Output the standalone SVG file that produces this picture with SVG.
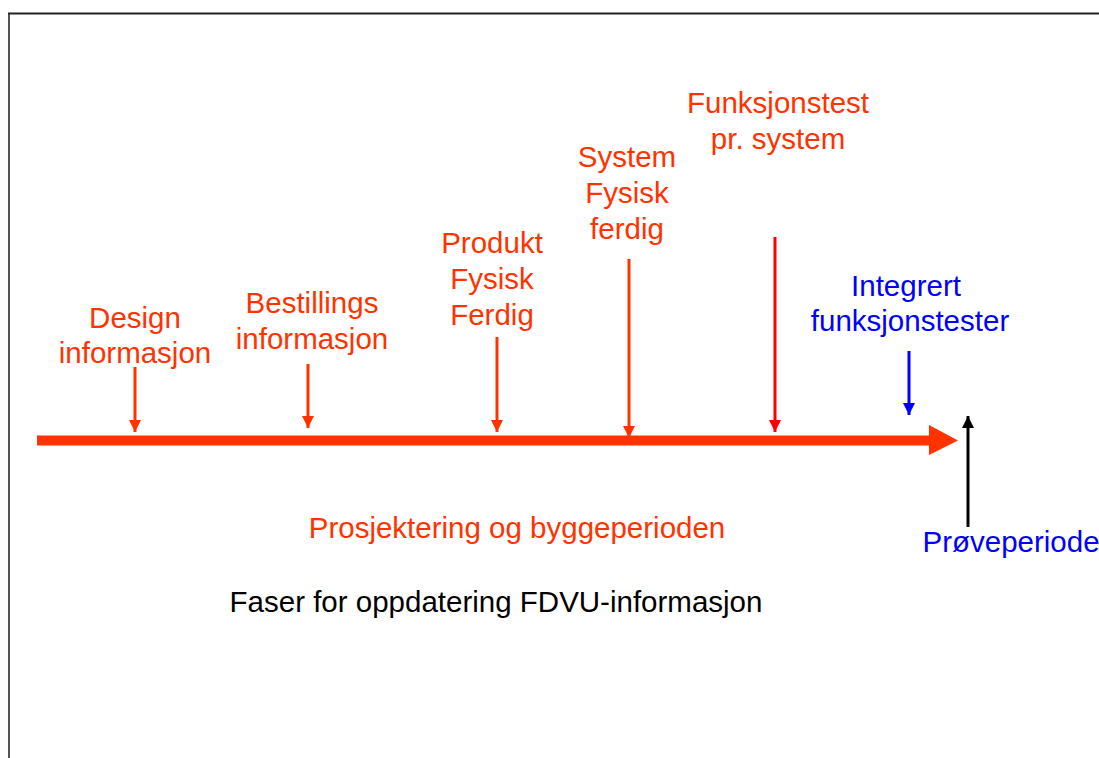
<svg xmlns="http://www.w3.org/2000/svg" width="1099" height="758" viewBox="0 0 1099 758">
<defs>
<style>
text{font-family:"Liberation Sans",Arial,sans-serif;font-size:29.5px;text-anchor:middle}
.o{fill:#FF3300}.b{fill:#0000FF}.k{fill:#000}
.lo{stroke:#FF3300;stroke-width:3;fill:none}
.lr{stroke:#FF0000;stroke-width:3;fill:none}
.lb{stroke:#0000FF;stroke-width:3;fill:none}
.lk{stroke:#000;stroke-width:3;fill:none}
</style>
<marker id="ao" viewBox="0 0 10 10" refX="10" refY="5" markerWidth="4" markerHeight="4" orient="auto" markerUnits="strokeWidth"><path d="M0,0 L10,5 L0,10 z" fill="#FF3300"/></marker>
<marker id="ar" viewBox="0 0 10 10" refX="10" refY="5" markerWidth="4" markerHeight="4" orient="auto" markerUnits="strokeWidth"><path d="M0,0 L10,5 L0,10 z" fill="#FF0000"/></marker>
<marker id="ab" viewBox="0 0 10 10" refX="10" refY="5" markerWidth="4" markerHeight="4" orient="auto" markerUnits="strokeWidth"><path d="M0,0 L10,5 L0,10 z" fill="#0000FF"/></marker>
<marker id="ak" viewBox="0 0 10 10" refX="10" refY="5" markerWidth="4" markerHeight="4" orient="auto" markerUnits="strokeWidth"><path d="M0,0 L10,5 L0,10 z" fill="#000"/></marker>
</defs>
<rect width="1099" height="758" fill="#fff"/>
<path d="M9,758 V13.5" fill="none" stroke="#555" stroke-width="2"/>
<path d="M8,13.5 H1099" fill="none" stroke="#222" stroke-width="2"/>
<g id="timeline">
<rect x="37" y="435.5" width="895" height="10" fill="#FF3300"/>
<path d="M929,425 L958,440.5 L929,455 z" fill="#FF3300"/>
</g>
<g id="connectors">
<line class="lo" x1="135" y1="367" x2="135" y2="432" marker-end="url(#ao)"/>
<line class="lo" x1="308" y1="364" x2="308" y2="428" marker-end="url(#ao)"/>
<line class="lo" x1="497" y1="337" x2="497" y2="432" marker-end="url(#ao)"/>
<line class="lo" x1="629" y1="259" x2="629" y2="438" marker-end="url(#ao)"/>
<line class="lr" x1="775" y1="237" x2="775" y2="432" marker-end="url(#ar)"/>
<line class="lb" x1="909" y1="351" x2="909" y2="415" marker-end="url(#ab)"/>
<line class="lk" x1="968" y1="527" x2="968" y2="416" marker-end="url(#ak)"/>
</g>
<g id="design"><text class="o" x="135" y="328">Design</text><text class="o" x="135" y="363">informasjon</text></g>
<g id="bestillings"><text class="o" x="312" y="313">Bestillings</text><text class="o" x="312" y="349">informasjon</text></g>
<g id="produkt"><text class="o" x="492" y="253">Produkt</text><text class="o" x="492" y="289">Fysisk</text><text class="o" x="492" y="325">Ferdig</text></g>
<g id="system"><text class="o" x="627" y="167">System</text><text class="o" x="627" y="203">Fysisk</text><text class="o" x="627" y="239">ferdig</text></g>
<g id="funksjonstest"><text class="o" x="778" y="113">Funksjonstest</text><text class="o" x="778" y="149">pr. system</text></g>
<g id="integrert"><text class="b" x="906" y="296">Integrert</text><text class="b" x="910" y="331">funksjonstester</text></g>
<g id="proveperiode"><text class="b" x="1011" y="552">Prøveperiode</text></g>
<g id="prosjektering"><text class="o" x="517" y="538">Prosjektering og byggeperioden</text></g>
<g id="faser"><text class="k" x="496" y="612">Faser for oppdatering FDVU-informasjon</text></g>
</svg>
